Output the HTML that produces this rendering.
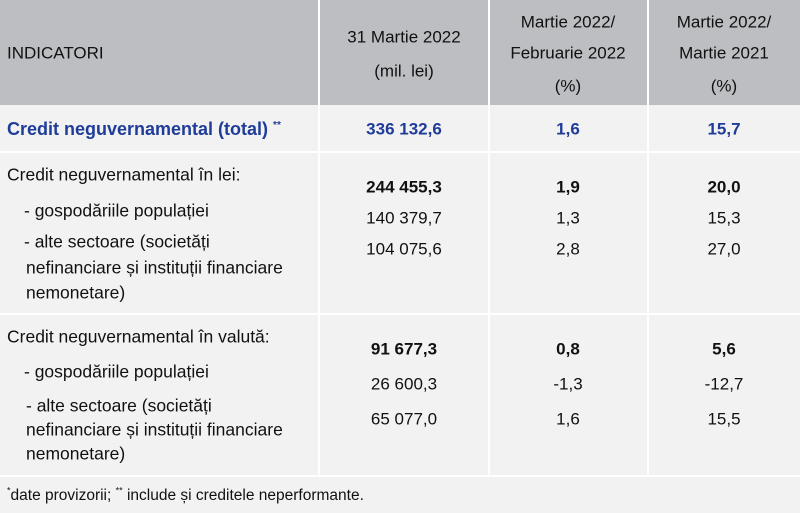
<!DOCTYPE html>
<html><head><meta charset="utf-8"><style>
body{margin:0;width:800px;height:513px;background:#f2f2f2;position:relative;overflow:hidden;font-family:"Liberation Sans",sans-serif;font-size:17px;color:#111}
.t{position:absolute;white-space:nowrap;line-height:1;transform:translateY(-50%)}
.c{transform:translate(-50%,-50%)}
.b{font-weight:bold}
.blue{color:#1f3c99;font-weight:bold}
.v{position:absolute;background:#fff;width:2px}
.h{position:absolute;background:#fff;height:2px;left:0;width:800px}
.l{font-size:17.5px}
</style></head><body>
<div style="position:absolute;left:0;top:0;width:800px;height:105px;background:#bdbec2"></div>
<div class="v" style="left:318px;top:0;height:475px"></div>
<div class="v" style="left:488px;top:0;height:475px"></div>
<div class="v" style="left:647px;top:0;height:475px"></div>
<div class="h" style="top:151px"></div>
<div class="h" style="top:313px"></div>
<div class="h" style="top:475px"></div>

<div class="t" style="left:7px;top:53px">INDICATORI</div>
<div class="t c" style="left:404px;top:37px">31 Martie 2022</div>
<div class="t c" style="left:404px;top:71px">(mil. lei)</div>
<div class="t c" style="left:568px;top:22px">Martie 2022/</div>
<div class="t c" style="left:568px;top:53px">Februarie 2022</div>
<div class="t c" style="left:568px;top:86px">(%)</div>
<div class="t c" style="left:724px;top:22px">Martie 2022/</div>
<div class="t c" style="left:724px;top:53px">Martie 2021</div>
<div class="t c" style="left:724px;top:86px">(%)</div>

<div class="t blue" style="left:7px;top:129px;font-size:18px">Credit neguvernamental (total) <sup style="font-size:10px">**</sup></div>
<div class="t c blue" style="left:404px;top:129px">336 132,6</div>
<div class="t c blue" style="left:568px;top:129px">1,6</div>
<div class="t c blue" style="left:724px;top:129px">15,7</div>

<div class="t l" style="left:7px;top:175px">Credit neguvernamental în lei:</div>
<div class="t c b" style="left:404px;top:187px">244 455,3</div>
<div class="t c b" style="left:568px;top:187px">1,9</div>
<div class="t c b" style="left:724px;top:187px">20,0</div>
<div class="t l" style="left:24px;top:211px">- gospodăriile populației</div>
<div class="t c" style="left:404px;top:218px">140 379,7</div>
<div class="t c" style="left:568px;top:218px">1,3</div>
<div class="t c" style="left:724px;top:218px">15,3</div>
<div class="t l" style="left:24px;top:242px">- alte sectoare (societăți</div>
<div class="t l" style="left:26px;top:268px">nefinanciare și instituții financiare</div>
<div class="t l" style="left:26px;top:293px">nemonetare)</div>
<div class="t c" style="left:404px;top:249px">104 075,6</div>
<div class="t c" style="left:568px;top:249px">2,8</div>
<div class="t c" style="left:724px;top:249px">27,0</div>

<div class="t l" style="left:7px;top:337px">Credit neguvernamental în valută:</div>
<div class="t c b" style="left:404px;top:349px">91 677,3</div>
<div class="t c b" style="left:568px;top:349px">0,8</div>
<div class="t c b" style="left:724px;top:349px">5,6</div>
<div class="t l" style="left:24px;top:372px">- gospodăriile populației</div>
<div class="t c" style="left:404px;top:384px">26 600,3</div>
<div class="t c" style="left:568px;top:384px">-1,3</div>
<div class="t c" style="left:724px;top:384px">-12,7</div>
<div class="t l" style="left:26px;top:406px">- alte sectoare (societăți</div>
<div class="t l" style="left:26px;top:430px">nefinanciare și instituții financiare</div>
<div class="t l" style="left:26px;top:454px">nemonetare)</div>
<div class="t c" style="left:404px;top:419px">65 077,0</div>
<div class="t c" style="left:568px;top:419px">1,6</div>
<div class="t c" style="left:724px;top:419px">15,5</div>

<div class="t" style="left:7px;top:495px;font-size:15.5px"><sup style="font-size:9px">*</sup>date provizorii; <sup style="font-size:9px">**</sup> include și creditele neperformante.</div>
</body></html>
